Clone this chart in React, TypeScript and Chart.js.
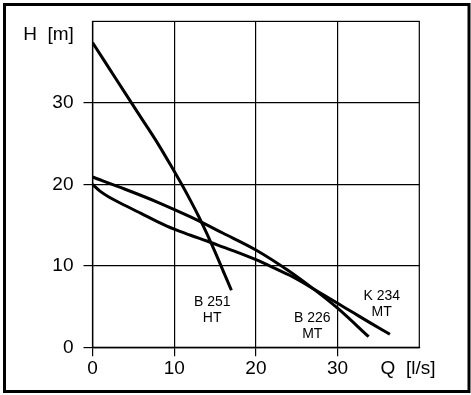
import React, { useEffect, useRef } from 'react';
import { Chart, registerables } from 'chart.js';
Chart.register(...registerables);

// Q [l/s] vs H [m]
const qB251 = [0, 2, 4, 6, 8, 10, 11, 12, 13, 14, 15, 16, 17];
const hB251 = [37.4, 34.3, 31.2, 28.1, 25.0, 21.6, 19.85, 18.0, 16.05, 13.95, 11.7, 9.35, 7.0];

const qB226 = [0, 4, 8, 12, 16, 20, 24, 27, 30, 33.8];
const hB226 = [20.9, 19.4, 17.8, 16.0, 14.0, 11.95, 9.4, 7.2, 4.8, 1.3];

const qK234 = [0, 1, 2, 4, 6, 8, 10, 12, 14, 16, 18, 20, 22, 24, 26, 28, 30, 32, 34, 36.4];
const hK234 = [20, 19.1, 18.45, 17.4, 16.4, 15.4, 14.5, 13.75, 13.05, 12.3, 11.55, 10.75, 9.85, 8.9, 7.8, 6.6, 5.4, 4.2, 3.0, 1.6];

const tickValues = [0, 10, 20, 30];
const axisMax = 40;

const curveNames = ['B 251\nHT', 'B 226\nMT', 'K 234\nMT'];
const labelQ = [14.65, 26.9, 35.4];
const labelH = [4.6, 2.6, 5.35];

const yTitle = 'H  [m]';
const xTitle = 'Q  [l/s]';

const FONT = '"Liberation Sans", Arial, sans-serif';

const toPts = (q: number[], h: number[]) => q.map((v, i) => ({ x: v, y: h[i] }));

export default function App() {
  const ref = useRef<HTMLCanvasElement | null>(null);

  useEffect(() => {
    if (!ref.current) return;
    const deco = {
      id: 'deco',
      afterDraw(chart: any) {
        const { ctx, chartArea, scales } = chart;
        ctx.save();
        ctx.strokeStyle = '#000';
        ctx.lineWidth = 1.2;
        ctx.strokeRect(chartArea.left, chartArea.top, chartArea.right - chartArea.left, chartArea.bottom - chartArea.top);
        ctx.fillStyle = '#000';
        ctx.font = `19px ${FONT}`;
        ctx.textAlign = 'center';
        ctx.textBaseline = 'middle';
        ctx.fillText(yTitle, 48.5, 35);
        ctx.fillText(xTitle, 408, 368.5);
        ctx.font = `14px ${FONT}`;
        curveNames.forEach((name, i) => {
          const x = scales.x.getPixelForValue(labelQ[i]);
          const y = scales.y.getPixelForValue(labelH[i]);
          const lines = name.split('\n');
          lines.forEach((ln, j) => {
            ctx.fillText(ln, x, y + (j - (lines.length - 1) / 2) * 16);
          });
        });
        ctx.lineWidth = 3;
        ctx.strokeRect(4.5, 4.5, 464.5, 387);
        ctx.restore();
      },
    };

    const commonScale = (isX: boolean) => ({
      type: 'linear' as const,
      min: 0,
      max: axisMax,
      afterBuildTicks: (s: any) => {
        s.ticks = tickValues.map((v) => ({ value: v }));
      },
      afterFit: (s: any) => {
        if (isX) s.height = 47.7;
        else s.width = 92.5;
      },
      grid: {
        color: '#000',
        lineWidth: 1.2,
        tickLength: 9,
        drawTicks: true,
      },
      border: { display: true, color: '#000', width: 1.2 },
      ticks: {
        color: '#000',
        font: { size: 19, family: FONT },
        padding: isX ? 1 : 10,
        maxRotation: 0,
        autoSkip: false,
        callback: (v: any) => String(v),
      },
    });

    const ds = (q: number[], h: number[]) => ({
      data: toPts(q, h),
      showLine: true,
      borderColor: '#000',
      borderWidth: 3,
      pointRadius: 0,
      fill: false,
      cubicInterpolationMode: 'monotone' as const,
    });

    const chart = new Chart(ref.current, {
      type: 'scatter',
      data: {
        datasets: [ds(qB251, hB251), ds(qB226, hB226), ds(qK234, hK234)],
      },
      options: {
        animation: false,
        responsive: false,
        layout: { padding: { left: 0, top: 19.5, right: 51.7, bottom: 0 } },
        plugins: { legend: { display: false }, tooltip: { enabled: false } },
        scales: { x: commonScale(true), y: commonScale(false) },
      },
      plugins: [deco],
    });
    return () => chart.destroy();
  }, []);

  return (
    <div style={{ position: 'fixed', left: 0, top: 0, width: 471, height: 395, background: '#fff' }}>
      <canvas ref={ref} width={471} height={395} />
    </div>
  );
}
